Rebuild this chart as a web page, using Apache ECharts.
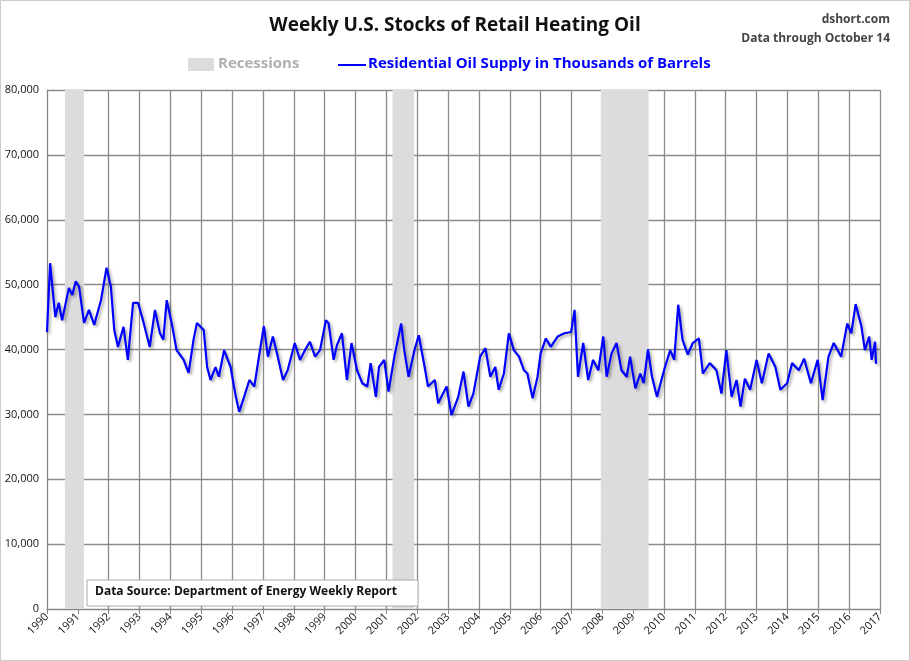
<!DOCTYPE html>
<html><head><meta charset="utf-8">
<script src="https://cdn.jsdelivr.net/npm/echarts@6/dist/echarts.min.js"></script>
<style>html,body{margin:0;background:#fff}#c{width:910px;height:661px}</style>
</head><body><div id="c"></div>
<script>
const years = [1990.0,1990.1,1990.16,1990.27,1990.38,1990.49,1990.71,1990.82,1990.93,1991.04,1991.2,1991.36,1991.53,1991.75,1991.93,1992.07,1992.18,1992.3,1992.48,1992.62,1992.79,1992.95,1993.11,1993.33,1993.5,1993.66,1993.77,1993.88,1994.04,1994.2,1994.43,1994.59,1994.75,1994.86,1995.08,1995.19,1995.3,1995.46,1995.57,1995.74,1995.95,1996.12,1996.23,1996.39,1996.56,1996.72,1996.89,1997.03,1997.16,1997.32,1997.48,1997.65,1997.8,1998.03,1998.2,1998.36,1998.52,1998.69,1998.85,1999.04,1999.13,1999.29,1999.4,1999.56,1999.72,1999.87,2000.05,2000.22,2000.38,2000.49,2000.66,2000.76,2000.93,2001.07,2001.26,2001.48,2001.58,2001.72,2001.91,2002.05,2002.24,2002.35,2002.57,2002.68,2002.95,2003.11,2003.33,2003.5,2003.66,2003.82,2004.04,2004.21,2004.37,2004.53,2004.64,2004.81,2004.97,2005.13,2005.3,2005.46,2005.57,2005.74,2005.9,2006.0,2006.17,2006.33,2006.55,2006.77,2006.99,2007.1,2007.21,2007.38,2007.54,2007.7,2007.87,2008.03,2008.14,2008.3,2008.46,2008.62,2008.79,2008.9,2009.07,2009.23,2009.34,2009.48,2009.61,2009.77,2010.0,2010.2,2010.33,2010.46,2010.6,2010.77,2010.93,2011.13,2011.26,2011.48,2011.7,2011.86,2012.02,2012.19,2012.35,2012.48,2012.62,2012.79,2013.0,2013.17,2013.39,2013.61,2013.77,2013.99,2014.15,2014.37,2014.54,2014.76,2014.98,2015.14,2015.33,2015.5,2015.74,2015.94,2016.07,2016.21,2016.4,2016.51,2016.65,2016.73,2016.84,2016.87];
const supply = [42.7,53.3,53.5,45,47.2,44.5,49.5,48.4,50.5,49.7,44.1,46.1,43.8,47.6,52.6,49.7,43,40.4,43.5,38.4,47.2,47.2,44.5,40.4,46.1,42.5,41.5,47.6,44.1,39.9,38.4,36.4,41.5,44.1,43,37.3,35.3,37.3,35.8,39.9,37.3,32.7,30.4,32.7,35.3,34.3,39.5,43.6,38.9,42,38.9,35.3,36.8,41,38.4,39.9,41.2,38.9,39.9,44.5,44,38.4,40.7,42.5,35.3,41,36.8,34.8,34.3,37.9,32.7,37.3,38.4,33.5,38.9,44,39.9,35.8,39.9,42.2,37.3,34.3,35.3,31.7,34.3,29.9,32.7,36.6,31.2,33.2,38.9,40.2,35.8,37.3,33.8,36.3,42.5,39.9,38.9,36.8,36.3,32.5,35.8,39.4,41.7,40.4,42,42.5,42.7,46.1,35.8,41,35.3,38.4,36.8,42,35.8,39.4,41,36.8,35.8,38.9,34,36.3,34.8,40,35.8,32.7,36.8,39.9,38.4,46.9,41.5,39.2,41,41.7,36.3,37.9,36.8,33.2,39.9,32.7,35.3,31.2,35.5,33.8,38.4,34.8,39.4,37.3,33.8,34.8,37.9,36.8,38.6,34.8,38.4,32.2,38.9,41,38.9,44,42.5,47,43.5,39.9,42,38.4,41.2,37.8];
const recessions = [[1990.58,1991.2],[2001.2,2001.9],[2007.95,2009.5]];
const yTicks = [0,10000,20000,30000,40000,50000,60000,70000,80000];

const chart = echarts.init(document.getElementById('c'));
chart.setOption({
  animation:false,
  textStyle:{fontFamily:'Open Sans, DejaVu Sans, sans-serif'},
  title:{text:'Weekly U.S. Stocks of Retail Heating Oil',left:'center',top:11,textStyle:{fontSize:19,fontWeight:'bold',color:'#111'}},
  graphic:[
    {type:'text',right:20,top:14,style:{text:'dshort.com',font:'bold 12px Open Sans, sans-serif',fill:'#444',align:'right'}},
    {type:'text',right:20,top:33,style:{text:'Data through October 14',font:'bold 12px Open Sans, sans-serif',fill:'#444',align:'right'}},
    {type:'rect',shape:{x:188,y:58,width:26,height:13},style:{fill:'#dcdcdc'}},
    {type:'text',left:218,top:56,style:{text:'Recessions',font:'bold 15px Open Sans, sans-serif',fill:'#b0b0b0'}},
    {type:'line',shape:{x1:338,y1:65,x2:366,y2:65},style:{stroke:'#0000ff',lineWidth:2}},
    {type:'text',left:368,top:56,style:{text:'Residential Oil Supply in Thousands of Barrels',font:'bold 15px Open Sans, sans-serif',fill:'#0000ff'}},
    {type:'rect',z:100,shape:{x:87,y:580,width:331,height:26},style:{fill:'#fff',stroke:'#aaa',lineWidth:1}},
    {type:'text',z:101,left:95,top:586,style:{text:'Data Source: Department of Energy Weekly Report',font:'bold 12px Open Sans, sans-serif',fill:'#111'}},
    {type:'rect',z:-1,shape:{x:0.5,y:0.5,width:909,height:660},style:{fill:'none',stroke:'#ccc'}}
  ],
  grid:{left:47,right:30,top:90,bottom:52},
  xAxis:{type:'value',min:1990,max:2017,interval:1,
    axisLine:{lineStyle:{color:'#888'}},axisTick:{show:true,lineStyle:{color:'#888'}},
    axisLabel:{rotate:45,color:'#111',fontSize:11,formatter:v=>String(v),margin:6},
    splitLine:{show:true,lineStyle:{color:'#8c8c8c',width:1.3}}},
  yAxis:{type:'value',min:yTicks[0],max:yTicks[yTicks.length-1],interval:10000,
    axisLine:{show:true,lineStyle:{color:'#888'}},axisTick:{show:false},
    axisLabel:{color:'#111',fontSize:11,formatter:v=>v.toLocaleString('en-US')},
    splitLine:{lineStyle:{color:'#8c8c8c',width:1.3}}},
  series:[{type:'line',name:'Residential Oil Supply',showSymbol:false,
    data:years.map((y,i)=>[y,supply[i]*1000]),
    lineStyle:{color:'#0000ff',width:2.2,shadowColor:'rgba(0,0,0,0.35)',shadowBlur:3,shadowOffsetX:2,shadowOffsetY:2},
    markArea:{silent:true,itemStyle:{color:'#dcdcdc'},data:recessions.map(r=>[{xAxis:r[0]},{xAxis:r[1]}])},
    z:3}]
});
</script></body></html>
